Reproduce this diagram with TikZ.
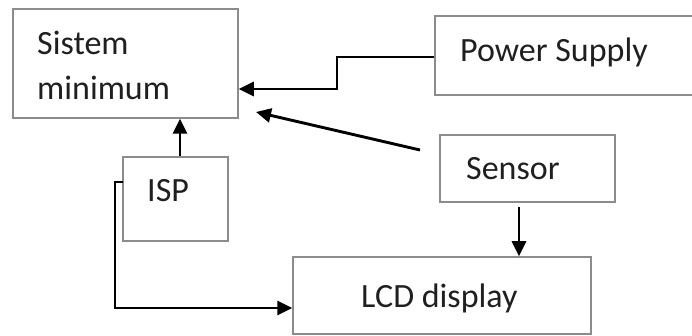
\documentclass[tikz,border=0pt]{standalone}
\usepackage{fontspec}
\setmainfont{Carlito}
\usetikzlibrary{arrows.meta}
\begin{document}
\begin{tikzpicture}[x=1pt,y=-1pt,
  blk/.style={draw=black!45,line width=1.5pt,rectangle,inner sep=0pt},
  lbl/.style={anchor=base west,inner sep=0pt,text=black!88,font=\fontsize{34}{40}\selectfont},
  conn/.style={line width=2.9pt,-{Triangle[length=15pt,width=14pt]}}]
\useasboundingbox (0,0) rectangle (692,336);
% boxes
\node[blk,minimum width=225pt,minimum height=109pt] (sys) at (125.5,63.5) {};
\node[blk,minimum width=265pt,minimum height=79pt] (ps) at (567.5,55.5) {};
\node[blk,minimum width=175pt,minimum height=67pt] (sen) at (527.5,168.5) {};
\node[blk,minimum width=105pt,minimum height=84pt] (isp) at (175.5,199) {};
\node[blk,minimum width=298pt,minimum height=77pt] (lcd) at (442,295.5) {};
% labels
\node[lbl] (t1) at (37,55) {Sistem};
\node[lbl] (t2) at (37,100) {minimum};
\node[lbl] (t3) at (460,62) {Power Supply};
\node[lbl] (t4) at (466,180) {Sensor};
\node[lbl] (t5) at (147,202) {ISP};
\node[lbl] (t6) at (361,307) {LCD display};
% connectors
\coordinate (p1) at (337,57);
\coordinate (p2) at (337,89);
\draw[conn] (ps.west |- p1) -- (p1) -- (p2) -- (sys.east |- p2);
\coordinate (s1) at (420,150);
\coordinate (s2) at (256,112);
\draw[conn] (s1) -- (s2);
\draw[conn] (isp.north -| 180,0) -- (sys.south -| 180,0);
\coordinate (i1) at (123,182);
\coordinate (i2) at (115,182);
\coordinate (i3) at (115,308);
\draw[conn] (i1) -- (i2) -- (i3) -- (lcd.west |- i3) ;
\draw[conn] (sen.south -| 519,0) ++(0,4) -- (lcd.north -| 519,0);
\end{tikzpicture}
\end{document}
